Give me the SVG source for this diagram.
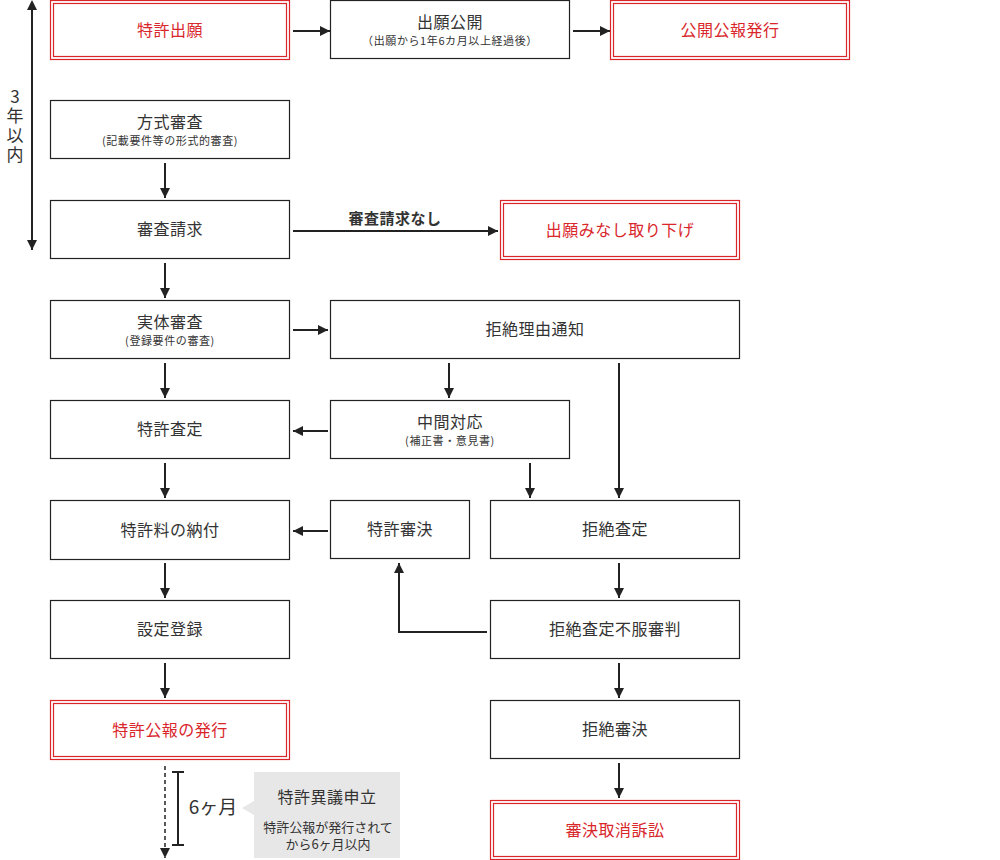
<svg xmlns="http://www.w3.org/2000/svg" width="1000" height="860" viewBox="0 0 1000 860">
<defs>
<marker id="ah" viewBox="0 0 10 10" refX="10" refY="5" markerWidth="10" markerHeight="10" markerUnits="userSpaceOnUse" orient="auto"><path d="M0,0 L10,5 L0,10 z" fill="#222"/></marker>
<marker id="ahs" viewBox="0 0 10 10" refX="0" refY="5" markerWidth="10" markerHeight="10" markerUnits="userSpaceOnUse" orient="auto-start-reverse"><path d="M0,0 L10,5 L0,10 z" fill="#222"/></marker>
<style>
.b{fill:#fff;stroke:#222;stroke-width:1.2}
.ro{fill:#fff;stroke:#d9262b;stroke-width:1.2}
.ri{fill:none;stroke:#d9262b;stroke-width:1.2}
.t{font-family:"Noto Sans CJK JP","Noto Sans",sans-serif;font-size:16px;letter-spacing:0.5px;fill:#333;text-anchor:middle}
.s{font-family:"Noto Sans CJK JP","Noto Sans",sans-serif;font-size:11px;letter-spacing:0.6px;fill:#333;text-anchor:middle}
.r{font-family:"Noto Sans CJK JP","Noto Sans",sans-serif;font-size:16px;letter-spacing:0.5px;fill:#d9262b;text-anchor:middle}
.c{fill:none;stroke:#222;stroke-width:2}
</style>
</defs>
<g id="connectors">
<line class="c" x1="32" y1="10" x2="32" y2="250" marker-start="url(#ahs)" marker-end="url(#ah)"/>
<line class="c" x1="293" y1="31" x2="330" y2="31" marker-end="url(#ah)"/>
<line class="c" x1="573" y1="31" x2="610" y2="31" marker-end="url(#ah)"/>
<line class="c" x1="165" y1="163" x2="165" y2="198" marker-end="url(#ah)"/>
<line class="c" x1="293" y1="231" x2="498" y2="231" marker-end="url(#ah)"/>
<text x="395" y="224" style="font-family:'Noto Sans CJK JP',sans-serif;font-size:15px;letter-spacing:0.5px;font-weight:bold;fill:#333;text-anchor:middle">審査請求なし</text>
<line class="c" x1="165" y1="263" x2="165" y2="298" marker-end="url(#ah)"/>
<line class="c" x1="293" y1="330" x2="328" y2="330" marker-end="url(#ah)"/>
<line class="c" x1="165" y1="363" x2="165" y2="398" marker-end="url(#ah)"/>
<line class="c" x1="449" y1="363" x2="449" y2="398" marker-end="url(#ah)"/>
<line class="c" x1="619" y1="363" x2="619" y2="498" marker-end="url(#ah)"/>
<line class="c" x1="328" y1="431" x2="293" y2="431" marker-end="url(#ah)"/>
<line class="c" x1="530" y1="463" x2="530" y2="498" marker-end="url(#ah)"/>
<line class="c" x1="165" y1="463" x2="165" y2="498" marker-end="url(#ah)"/>
<line class="c" x1="328" y1="531" x2="293" y2="531" marker-end="url(#ah)"/>
<line class="c" x1="619" y1="563" x2="619" y2="598" marker-end="url(#ah)"/>
<polyline class="c" points="487,632 399,632 399,563" marker-end="url(#ah)"/>
<line class="c" x1="165" y1="563" x2="165" y2="598" marker-end="url(#ah)"/>
<line class="c" x1="619" y1="663" x2="619" y2="698" marker-end="url(#ah)"/>
<line class="c" x1="165" y1="663" x2="165" y2="698" marker-end="url(#ah)"/>
<line class="c" x1="619" y1="763" x2="619" y2="798" marker-end="url(#ah)"/>
<line x1="165" y1="766" x2="165" y2="858" stroke="#222" stroke-width="1.5" stroke-dasharray="4,3" marker-end="url(#ah)"/>
<path d="M172,772 H184 M178,772 V845 M172,845 H184" fill="none" stroke="#222" stroke-width="2"/>
</g>
<g id="label-3years">
<text x="15" y="88" style="font-family:'Noto Sans CJK JP',sans-serif;font-size:17px;letter-spacing:2.5px;fill:#333;writing-mode:vertical-rl;text-orientation:upright">3年以内</text>
</g>
<g id="n-tokkyo-shutsugan"><rect class="ro" x="50.5" y="0.5" width="239" height="59"/><rect class="ri" x="53.5" y="3.5" width="233" height="53"/><text class="r" x="170" y="36">特許出願</text></g>
<g id="n-shutsugan-kokai"><rect class="b" x="330.5" y="0.5" width="239" height="58"/><text class="t" x="450" y="28">出願公開</text><text class="s" x="450" y="45">（出願から1年6カ月以上経過後）</text></g>
<g id="n-kokai-koho"><rect class="ro" x="610.5" y="0.5" width="239" height="59"/><rect class="ri" x="613.5" y="3.5" width="233" height="53"/><text class="r" x="730" y="36">公開公報発行</text></g>
<g id="n-hoshiki"><rect class="b" x="50.5" y="100.5" width="239" height="58"/><text class="t" x="170" y="128">方式審査</text><text class="s" x="170" y="145">(記載要件等の形式的審査)</text></g>
<g id="n-shinsa-seikyu"><rect class="b" x="50.5" y="200.5" width="239" height="58"/><text class="t" x="170" y="235">審査請求</text></g>
<g id="n-minashi"><rect class="ro" x="500.5" y="200.5" width="239" height="59"/><rect class="ri" x="503.5" y="203.5" width="233" height="53"/><text class="r" x="620" y="236">出願みなし取り下げ</text></g>
<g id="n-jittai"><rect class="b" x="50.5" y="300.5" width="239" height="58"/><text class="t" x="170" y="328">実体審査</text><text class="s" x="170" y="345">(登録要件の審査)</text></g>
<g id="n-kyozetsu-riyu"><rect class="b" x="330.5" y="300.5" width="409" height="58"/><text class="t" x="535" y="335">拒絶理由通知</text></g>
<g id="n-tokkyo-satei"><rect class="b" x="50.5" y="400.5" width="239" height="58"/><text class="t" x="170" y="435">特許査定</text></g>
<g id="n-chukan"><rect class="b" x="330.5" y="400.5" width="239" height="58"/><text class="t" x="450" y="428">中間対応</text><text class="s" x="450" y="445">(補正書・意見書)</text></g>
<g id="n-nofu"><rect class="b" x="50.5" y="500.5" width="239" height="59"/><text class="t" x="170" y="536">特許料の納付</text></g>
<g id="n-tokkyo-shinketsu"><rect class="b" x="330.5" y="500.5" width="139" height="58"/><text class="t" x="400" y="535">特許審決</text></g>
<g id="n-kyozetsu-satei"><rect class="b" x="490.5" y="500.5" width="249" height="58"/><text class="t" x="615" y="535">拒絶査定</text></g>
<g id="n-settei"><rect class="b" x="50.5" y="600.5" width="239" height="58"/><text class="t" x="170" y="635">設定登録</text></g>
<g id="n-fufuku"><rect class="b" x="490.5" y="600.5" width="249" height="58"/><text class="t" x="615" y="635">拒絶査定不服審判</text></g>
<g id="n-koho-hakko"><rect class="ro" x="50.5" y="700.5" width="239" height="59"/><rect class="ri" x="53.5" y="703.5" width="233" height="53"/><text class="r" x="170" y="736">特許公報の発行</text></g>
<g id="n-kyozetsu-shinketsu"><rect class="b" x="490.5" y="700.5" width="249" height="58"/><text class="t" x="615" y="735">拒絶審決</text></g>
<g id="n-torikeshi"><rect class="ro" x="490.5" y="800.5" width="249" height="59"/><rect class="ri" x="493.5" y="803.5" width="243" height="53"/><text class="r" x="615" y="836">審決取消訴訟</text></g>
<g id="n-igi">
<text x="213" y="814" style="font-family:'Noto Sans CJK JP',sans-serif;font-size:19px;fill:#333;text-anchor:middle">6ヶ月</text>
<path d="M254,772 H400 V858 H254 V815 L242,808 L254,801 Z" fill="#e8e7e7"/>
<text class="t" x="327" y="803">特許異議申立</text>
<text x="328" y="832" style="font-family:'Noto Sans CJK JP',sans-serif;font-size:13px;fill:#333;text-anchor:middle">特許公報が発行されて</text>
<text x="328" y="849" style="font-family:'Noto Sans CJK JP',sans-serif;font-size:13px;fill:#333;text-anchor:middle">から6ヶ月以内</text>
</g>
</svg>
